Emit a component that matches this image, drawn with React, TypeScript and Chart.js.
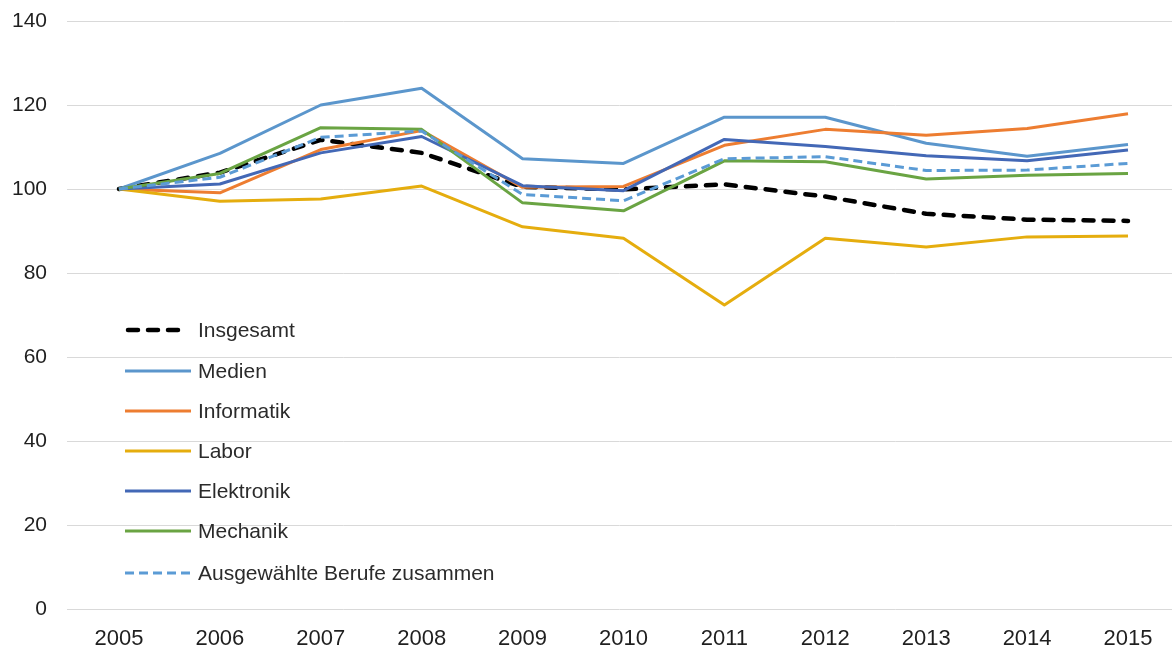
import React, { useEffect, useRef } from "react";
import { Chart, registerables } from "chart.js";

Chart.register(...registerables);

const years = [2005, 2006, 2007, 2008, 2009, 2010, 2011, 2012, 2013, 2014, 2015];
const yTicks = [0, 20, 40, 60, 80, 100, 120, 140];

const insgesamt = [100, 103.9, 111.7, 108.6, 100.5, 99.9, 101.1, 98.2, 94.1, 92.7, 92.4];
const medien = [100, 108.5, 120, 124, 107.2, 106.1, 117.1, 117.1, 110.9, 107.8, 110.6];
const informatik = [100, 99.1, 109.4, 113.9, 100.4, 100.6, 110.4, 114.2, 112.8, 114.4, 117.9];
const labor = [100, 97.1, 97.6, 100.7, 91.0, 88.3, 72.4, 88.3, 86.2, 88.6, 88.8];
const elektronik = [100, 101.2, 108.6, 112.5, 100.8, 99.6, 111.8, 110.1, 107.9, 106.7, 109.3];
const mechanik = [100, 103.7, 114.6, 114.2, 96.7, 94.8, 106.7, 106.5, 102.4, 103.3, 103.7];
const ausgewaehlt = [100, 102.8, 112.3, 113.8, 98.7, 97.2, 107.2, 107.7, 104.4, 104.5, 106.1];

const seriesNames = [
  "Insgesamt",
  "Medien",
  "Informatik",
  "Labor",
  "Elektronik",
  "Mechanik",
  "Ausgewählte Berufe zusammen",
];
const seriesValues = [insgesamt, medien, informatik, labor, elektronik, mechanik, ausgewaehlt];
const seriesColors = ["#000000", "#5B96CC", "#ED7D31", "#E5AD0E", "#4368B6", "#6AA443", "#5B9BD5"];
const seriesWidths = [4.5, 3, 3, 3, 3, 3, 3];
const seriesDashes: number[][] = [[10, 10], [], [], [], [], [], [9, 5]];
const seriesCaps = ["round", "butt", "butt", "butt", "butt", "butt", "butt"];

const FONT = "'Liberation Sans', Arial, sans-serif";

const legendPlugin = {
  id: "insideLegend",
  afterDatasetsDraw(chart: any) {
    const ctx = chart.ctx;
    const x0 = 125;
    const x1 = 191;
    const rows = [330, 371, 411, 451, 491, 531, 573];
    ctx.save();
    ctx.font = `21px ${FONT}`;
    ctx.textBaseline = "middle";
    ctx.textAlign = "left";
    seriesNames.forEach((name, i) => {
      const y = rows[i];
      ctx.beginPath();
      ctx.strokeStyle = seriesColors[i];
      ctx.lineWidth = seriesWidths[i];
      ctx.lineCap = seriesCaps[i];
      ctx.setLineDash(seriesDashes[i]);
      ctx.moveTo(i === 0 ? x0 + 3 : x0, y);
      ctx.lineTo(i === 0 ? x1 - 3 : x1, y);
      ctx.stroke();
      ctx.setLineDash([]);
      ctx.fillStyle = "#2b2b2b";
      ctx.fillText(name, 198, y + 1);
    });
    ctx.restore();
  },
};

export default function App() {
  const canvasRef = useRef<HTMLCanvasElement | null>(null);

  useEffect(() => {
    if (!canvasRef.current) return;
    const datasets = seriesNames.map((name, i) => ({
      label: name,
      data: years.map((yr, j) => ({ x: yr, y: seriesValues[i][j] })),
      borderColor: seriesColors[i],
      backgroundColor: seriesColors[i],
      borderWidth: seriesWidths[i],
      borderDash: seriesDashes[i],
      borderCapStyle: seriesCaps[i],
      borderJoinStyle: "round",
      pointRadius: 0,
      tension: 0,
      fill: false,
      order: seriesNames.length - i,
    }));

    const chart = new Chart(canvasRef.current, {
      type: "line",
      data: { datasets } as any,
      options: {
        animation: false,
        responsive: false,
        maintainAspectRatio: false,
        layout: { padding: { top: 21, left: 0, right: 0, bottom: 0 } },
        plugins: {
          legend: { display: false },
          tooltip: { enabled: false },
        },
        scales: {
          x: {
            type: "linear",
            min: 2004.485,
            max: 2015.436,
            grid: { display: false },
            border: { display: false },
            afterBuildTicks: (scale: any) => {
              scale.ticks = years.map((v) => ({ value: v }));
            },
            afterFit: (scale: any) => {
              scale.height = 37;
              scale.paddingLeft = 0;
              scale.paddingRight = 0;
            },
            ticks: {
              autoSkip: false,
              maxRotation: 0,
              padding: 9,
              color: "#1f1f1f",
              font: { family: FONT, size: 22 },
              callback: (v: any) => String(v),
            },
          },
          y: {
            min: 0,
            max: 140,
            afterBuildTicks: (scale: any) => {
              scale.ticks = yTicks.map((v) => ({ value: v }));
            },
            afterFit: (scale: any) => {
              scale.width = 67;
              scale.paddingTop = 0;
              scale.paddingBottom = 0;
            },
            grid: { color: "#D9D9D9", lineWidth: 1, drawTicks: false },
            border: { display: false },
            ticks: {
              padding: 20,
              color: "#1f1f1f",
              font: { family: FONT, size: 21 },
            },
          },
        },
      } as any,
      plugins: [legendPlugin],
    });
    return () => chart.destroy();
  }, []);

  return (
    <div style={{ position: "absolute", left: 0, top: 0, width: 1172, height: 646, background: "#fff" }}>
      <canvas ref={canvasRef} width={1172} height={646} style={{ display: "block" }} />
    </div>
  );
}
